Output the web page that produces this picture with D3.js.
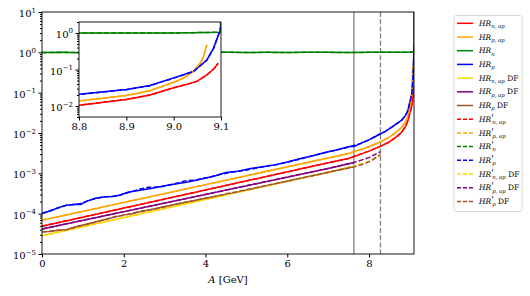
<!DOCTYPE html>
<html>
<head>
<meta charset="utf-8">
<script src="https://cdn.jsdelivr.net/npm/d3@7"></script>
<style>
  body { margin: 0; background: #fff; }
  svg { display: block; }
  text { font-family: "DejaVu Serif", serif; fill: #000; }
</style>
</head>
<body>
<div id="chart"></div>
<script>
// values (A in GeV, HR on log scale)
const aNap = [0, 7, 7.5, 8, 8.3, 8.5, 8.7, 8.8, 8.9, 8.95, 9.0, 9.03, 9.05, 9.07, 9.085, 9.094]
const hrNap = [4.9e-5, 1.82e-3, 2.34e-3, 3.55e-3, 4.79e-3, 6.03e-3, 8.51e-3, 1.05e-2, 1.51e-2, 2.0e-2, 3.16e-2, 3.98e-2, 4.79e-2, 7.08e-2, 0.105, 0.148]

const aPap = [0, 7, 7.5, 8, 8.3, 8.5, 8.7, 8.8, 8.9, 8.95, 9.0, 9.02, 9.042, 9.056, 9.063, 9.07]
const hrPap = [6.9e-5, 2.4e-3, 3.09e-3, 4.57e-3, 6.17e-3, 7.94e-3, 1.12e-2, 1.38e-2, 1.95e-2, 2.63e-2, 4.47e-2, 5.75e-2, 8.91e-2, 0.148, 0.224, 0.468]

const aN = [0, 0.5, 1, 1.5, 2, 2.5, 3, 3.5, 4, 4.5, 5, 5.5, 6, 6.5, 7, 7.5, 8, 8.5, 9, 9.099, 9.1]
const hrN = [0.99, 1.0, 0.98, 1.0, 1.01, 0.99, 1.0, 0.98, 1.0, 1.01, 0.99, 1.0, 0.99, 1.01, 1.0, 0.99, 1.0, 1.0, 1.0, 1.05, 20]

const aP = [0, 0.2, 0.4, 0.6, 0.8, 0.95, 1.1, 1.3, 1.5, 1.7, 1.9, 2.1, 2.4, 2.7, 3.0, 3.3, 3.6, 3.9, 4.2, 4.5, 4.8, 5.1, 5.4, 5.7, 6.0, 6.3, 6.6, 6.9, 7.2, 7.5, 7.65, 7.8, 8.0, 8.26, 8.4, 8.6, 8.8, 8.9, 8.95, 9.0, 9.042, 9.07, 9.084, 9.098, 9.1]
const hrP = [1.02e-4, 1.17e-4, 1.41e-4, 1.62e-4, 1.72e-4, 1.70e-4, 2.05e-4, 2.40e-4, 2.60e-4, 2.65e-4, 2.85e-4, 3.39e-4, 3.80e-4, 4.27e-4, 4.90e-4, 5.50e-4, 6.17e-4, 7.24e-4, 8.51e-4, 1.05e-3, 1.12e-3, 1.32e-3, 1.45e-3, 1.62e-3, 1.91e-3, 2.29e-3, 2.69e-3, 3.24e-3, 3.80e-3, 4.57e-3, 4.68e-3, 5.62e-3, 6.76e-3, 9.33e-3, 1.10e-2, 1.51e-2, 2.09e-2, 2.82e-2, 3.63e-2, 5.89e-2, 8.91e-2, 0.182, 0.38, 1.17, 1.58]

const aNapDF = [0, 7, 7.3, 7.63]
const hrNapDF = [2.82e-5, 1.07e-3, 1.26e-3, 1.51e-3]

const aPapDF = [0, 7, 7.3, 7.63]
const hrPapDF = [4.17e-5, 1.32e-3, 1.55e-3, 1.86e-3]

const aPDF = [0, 0.2, 0.4, 0.6, 0.8, 1.0, 1.2, 1.4, 1.6, 1.8, 2.0, 2.2, 2.4, 2.7, 3.0, 3.3, 3.6, 4.0, 4.4, 4.8, 5.2, 5.6, 6.0, 6.4, 6.8, 7.2, 7.63]
const hrPDF = [3.55e-5, 3.63e-5, 3.89e-5, 3.98e-5, 4.68e-5, 5.25e-5, 5.89e-5, 6.61e-5, 7.41e-5, 8.32e-5, 9.33e-5, 1.0e-4, 1.12e-4, 1.29e-4, 1.51e-4, 1.74e-4, 2.0e-4, 2.40e-4, 2.88e-4, 3.47e-4, 4.27e-4, 5.25e-4, 6.46e-4, 7.94e-4, 9.55e-4, 1.17e-3, 1.45e-3]

// primed (dashed) versions
const aPPrime = [0, 0.3, 0.6, 0.9, 1.2, 1.5, 1.8, 2.1, 2.4, 2.6, 2.9, 3.2, 3.5, 3.8, 4.1, 4.4, 4.7, 5.0, 5.4, 5.8, 6.2, 6.6, 7.0, 7.4, 7.8, 8.0, 8.26, 8.4, 8.6, 8.8, 8.9, 8.95, 9.0, 9.042, 9.07, 9.084, 9.098, 9.1]
const hrPPrime = [1.0e-4, 1.29e-4, 1.62e-4, 1.74e-4, 2.2e-4, 2.6e-4, 2.7e-4, 3.3e-4, 4.1e-4, 4.5e-4, 4.6e-4, 5.4e-4, 6.5e-4, 6.9e-4, 8.1e-4, 9.6e-4, 1.1e-3, 1.2e-3, 1.45e-3, 1.7e-3, 2.1e-3, 2.7e-3, 3.4e-3, 4.2e-3, 5.5e-3, 6.8e-3, 9.4e-3, 1.10e-2, 1.50e-2, 2.08e-2, 2.80e-2, 3.6e-2, 5.8e-2, 8.8e-2, 0.18, 0.37, 1.15, 1.6]

const aNapDFPrime = [0, 7, 7.63, 8.0, 8.28]
const hrNapDFPrime = [2.82e-5, 1.07e-3, 1.51e-3, 2.0e-3, 2.82e-3]

const aPapDFPrime = [0, 7, 7.63, 8.0, 8.28]
const hrPapDFPrime = [4.17e-5, 1.32e-3, 1.86e-3, 2.45e-3, 3.47e-3]

const aPDFPrime = [0, 0.3, 0.6, 0.9, 1.2, 1.5, 1.8, 2.1, 2.4, 2.8, 3.2, 3.6, 4.0, 4.5, 5.0, 5.5, 6.0, 6.5, 7.0, 7.4, 7.63, 7.9, 8.1, 8.28]
const hrPDFPrime = [3.5e-5, 3.8e-5, 4.0e-5, 4.9e-5, 5.7e-5, 7.0e-5, 8.5e-5, 9.5e-5, 1.15e-4, 1.32e-4, 1.65e-4, 2.0e-4, 2.4e-4, 3.1e-4, 3.9e-4, 5.0e-4, 6.4e-4, 8.2e-4, 1.06e-3, 1.3e-3, 1.44e-3, 1.74e-3, 2.19e-3, 2.95e-3]

const cutDF = 7.63
const cutDFPrime = 8.28

const xTicks = [0, 2, 4, 6, 8]
const yDecades = [1e-5, 1e-4, 1e-3, 1e-2, 1e-1, 1, 10]
const insetXTicks = [8.8, 8.9, 9.0, 9.1]
const insetYDecades = [1e-2, 1e-1, 1]

const series = [
  { xs: aNap, ys: hrNap, color: "#ff0000", dashed: false, sub: "n, ap", prime: false, df: false },
  { xs: aPap, ys: hrPap, color: "#ffa500", dashed: false, sub: "p, ap", prime: false, df: false },
  { xs: aN, ys: hrN, color: "#008000", dashed: false, sub: "n", prime: false, df: false },
  { xs: aP, ys: hrP, color: "#0000ff", dashed: false, sub: "p", prime: false, df: false },
  { xs: aNapDF, ys: hrNapDF, color: "#ffd700", dashed: false, sub: "n, ap", prime: false, df: true },
  { xs: aPapDF, ys: hrPapDF, color: "#800080", dashed: false, sub: "p, ap", prime: false, df: true },
  { xs: aPDF, ys: hrPDF, color: "#a0522d", dashed: false, sub: "p", prime: false, df: true },
  { xs: aNap, ys: hrNap, color: "#ff0000", dashed: true, sub: "n, ap", prime: true, df: false },
  { xs: aPap, ys: hrPap, color: "#ffa500", dashed: true, sub: "p, ap", prime: true, df: false },
  { xs: aN, ys: hrN, color: "#008000", dashed: true, sub: "n", prime: true, df: false },
  { xs: aPPrime, ys: hrPPrime, color: "#0000ff", dashed: true, sub: "p", prime: true, df: false },
  { xs: aNapDFPrime, ys: hrNapDFPrime, color: "#ffd700", dashed: true, sub: "n, ap", prime: true, df: true },
  { xs: aPapDFPrime, ys: hrPapDFPrime, color: "#800080", dashed: true, sub: "p, ap", prime: true, df: true },
  { xs: aPDFPrime, ys: hrPDFPrime, color: "#a0522d", dashed: true, sub: "p", prime: true, df: true }
]

const width = 530
const height = 296
const DASH = "5,2.2"

const svg = d3.select("#chart").append("svg")
  .attr("width", width)
  .attr("height", height)

const x = d3.scaleLinear().domain([0, 9.1]).range([42, 414])
const y = d3.scaleLog().domain([1e-5, 10]).range([254, 12])

function minorTicks(decades) {
  const out = []
  decades.slice(0, -1).forEach(d => {
    for (let k = 2; k <= 9; k++) out.push(d * k)
  })
  return out
}

function powLabel(sel, size) {
  sel.selectAll(".tick text").each(function (d) {
    const e = Math.round(Math.log10(d))
    const t = d3.select(this).text(null)
    t.append("tspan").text("10")
    t.append("tspan").attr("dy", -size * 0.45).attr("font-size", size * 0.7)
      .text(e < 0 ? "\u2212" + (-e) : e)
  })
}

svg.append("defs").append("clipPath").attr("id", "clip-main")
  .append("rect").attr("x", 42).attr("y", 12).attr("width", 372).attr("height", 242)

// vertical cut lines
const main = svg.append("g").attr("clip-path", "url(#clip-main)")
main.append("line")
  .attr("x1", x(cutDF)).attr("x2", x(cutDF))
  .attr("y1", 12).attr("y2", 254)
  .attr("stroke", "#808080").attr("stroke-width", 1.3)
main.append("line")
  .attr("x1", x(cutDFPrime)).attr("x2", x(cutDFPrime))
  .attr("y1", 12).attr("y2", 254)
  .attr("stroke", "#808080").attr("stroke-width", 1.3)
  .attr("stroke-dasharray", DASH)

function drawSeries(g, sx, sy) {
  const line = d3.line().x(d => sx(d[0])).y(d => sy(d[1]))
  series.forEach(s => {
    g.append("path")
      .datum(s.xs.map((a, i) => [a, s.ys[i]]))
      .attr("d", line)
      .attr("fill", "none")
      .attr("stroke", s.color)
      .attr("stroke-width", 1.5)
      .attr("stroke-dasharray", s.dashed ? DASH : null)
  })
}

drawSeries(main, x, y)

// main axes
const fs = 10
const gx = svg.append("g").attr("transform", "translate(0,254)")
  .call(d3.axisBottom(x).tickValues(xTicks).tickFormat(d3.format("d")).tickSize(3.5).tickPadding(2))
gx.select(".domain").remove()
gx.selectAll("text").attr("font-size", fs).attr("font-family", "DejaVu Serif")

const gy = svg.append("g").attr("transform", "translate(42,0)")
  .call(d3.axisLeft(y).tickValues(yDecades).tickSize(3.5).tickPadding(2.5))
gy.select(".domain").remove()
gy.selectAll("text").attr("font-size", fs).attr("font-family", "DejaVu Serif").attr("dy", "0.45em")
powLabel(gy, fs)
svg.append("g").attr("transform", "translate(42,0)")
  .call(d3.axisLeft(y).tickValues(minorTicks(yDecades)).tickSize(2).tickFormat(""))
  .select(".domain").remove()

svg.append("rect")
  .attr("x", 42).attr("y", 12).attr("width", 372).attr("height", 242)
  .attr("fill", "none").attr("stroke", "#000").attr("stroke-width", 0.9)

svg.append("text")
  .attr("x", 228).attr("y", 283)
  .attr("text-anchor", "middle")
  .attr("font-size", fs)
  .call(t => {
    t.append("tspan").attr("font-style", "italic").text("A")
    t.append("tspan").text(" [GeV]")
  })

// inset
const ix = d3.scaleLinear().domain([8.8, 9.1]).range([79, 221])
const iy = d3.scaleLog().domain([0.005, 2]).range([117, 22])

svg.append("rect")
  .attr("x", 79).attr("y", 22).attr("width", 142).attr("height", 95)
  .attr("fill", "#fff")
svg.select("defs").append("clipPath").attr("id", "clip-inset")
  .append("rect").attr("x", 79).attr("y", 22).attr("width", 142).attr("height", 95)
const inset = svg.append("g").attr("clip-path", "url(#clip-inset)")
drawSeries(inset, ix, iy)

const igx = svg.append("g").attr("transform", "translate(0,117)")
  .call(d3.axisBottom(ix).tickValues(insetXTicks).tickFormat(d3.format(".1f")).tickSize(3.5).tickPadding(2))
igx.select(".domain").remove()
igx.selectAll("text").attr("font-size", fs).attr("font-family", "DejaVu Serif")

const igy = svg.append("g").attr("transform", "translate(79,0)")
  .call(d3.axisLeft(iy).tickValues(insetYDecades).tickSize(3.5).tickPadding(2.5))
igy.select(".domain").remove()
igy.selectAll("text").attr("font-size", fs).attr("font-family", "DejaVu Serif").attr("dy", "0.45em")
powLabel(igy, fs)
svg.append("g").attr("transform", "translate(79,0)")
  .call(d3.axisLeft(iy).tickValues([0.005, 0.006, 0.007, 0.008, 0.009].concat(minorTicks(insetYDecades), [2])).tickSize(2).tickFormat(""))
  .select(".domain").remove()

svg.append("rect")
  .attr("x", 79).attr("y", 22).attr("width", 142).attr("height", 95)
  .attr("fill", "none").attr("stroke", "#000").attr("stroke-width", 0.9)

// legend
const lg = svg.append("g")
lg.append("rect")
  .attr("x", 454).attr("y", 15.5).attr("width", 68).attr("height", 196)
  .attr("rx", 2)
  .attr("fill", "#fff").attr("fill-opacity", 0.8)
  .attr("stroke", "#d0d0d0").attr("stroke-width", 0.8)

const lfs = 7.5
series.forEach((s, i) => {
  const ly = 23.3 + i * 13.7
  lg.append("line")
    .attr("x1", 457).attr("x2", 473)
    .attr("y1", ly).attr("y2", ly)
    .attr("stroke", s.color).attr("stroke-width", 1.5)
    .attr("stroke-dasharray", s.dashed ? "4,2" : null)
  const t = lg.append("text")
    .attr("x", 479).attr("y", ly + 2.6)
    .attr("font-size", lfs)
  t.append("tspan").attr("font-style", "italic").text("HR")
  if (s.prime) {
    t.append("tspan").attr("dy", -1).attr("font-size", 9).text("'")
    t.append("tspan").attr("dx", -1.5).attr("dy", 3.2).attr("font-size", lfs * 0.72)
      .attr("font-style", "italic").text(s.sub)
  } else {
    t.append("tspan").attr("dy", 2.2).attr("font-size", lfs * 0.72)
      .attr("font-style", "italic").text(s.sub)
  }
  if (s.df) {
    t.append("tspan").attr("dy", -2.2).text(" DF")
  }
})
</script>
</body>
</html>
